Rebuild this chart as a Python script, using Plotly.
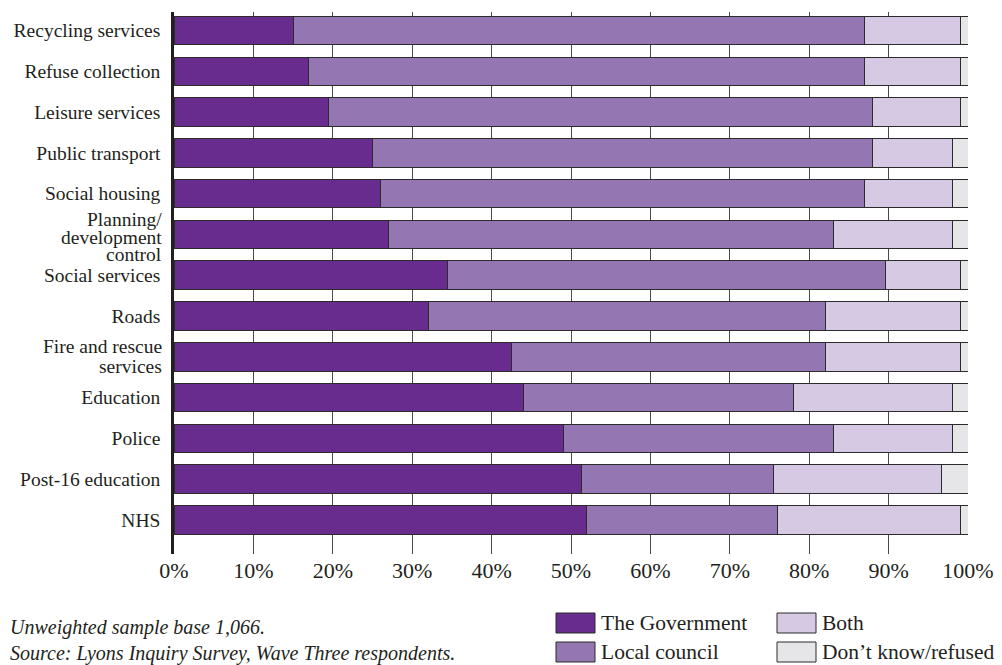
import plotly.graph_objects as go

categories = ["Recycling services", "Refuse collection", "Leisure services", "Public transport",
              "Social housing", "Planning/development control", "Social services", "Roads",
              "Fire and rescue services", "Education", "Police", "Post-16 education", "NHS"]
tick_labels = ["Recycling services", "Refuse collection", "Leisure services", "Public transport",
               "Social housing", "", "Social services", "Roads",
               "", "Education", "Police", "Post-16 education", "NHS"]
planning_lines = ["Planning/", "development", "control"]
fire_lines = ["Fire and rescue", "services"]

government = [15, 17, 19.5, 25, 26, 27, 34.5, 32, 42.5, 44, 49, 51.3, 52]
local_council = [72, 70, 68.5, 63, 61, 56, 55.1, 50, 39.5, 34, 34, 24.2, 24]
both = [12, 12, 11, 10, 11, 15, 9.4, 17, 17, 20, 15, 21.2, 23]
dont_know = [1, 1, 1, 2, 2, 2, 1, 1, 1, 2, 2, 3.3, 1]

series_names = ["The Government", "Local council", "Both", "Don’t know/refused"]
series_values = [government, local_council, both, dont_know]
colors = ["#682c8e", "#9476b2", "#d5c9e3", "#e6e6e8"]

x_ticks = [0, 10, 20, 30, 40, 50, 60, 70, 80, 90, 100]
x_tick_text = [f"{v}%" for v in x_ticks]

FONT = "Liberation Serif"
TXT = "#231f20"
YFS = 19.5

W, H = 1002, 665
ML, MR, MT, MB = 174, 34, 12, 111
PW, PH = W - ML - MR, H - MT - MB

pos = list(range(len(categories)))

fig = go.Figure()
for name, vals, col in zip(series_names, series_values, colors):
    fig.add_trace(go.Bar(
        y=pos, x=vals, name=name, orientation="h",
        marker=dict(color=col, line=dict(color="#2b2b2b", width=1)),
        showlegend=False, customdata=categories,
        hovertemplate="%{customdata}: %{x}%<extra>" + name + "</extra>",
    ))

def px_x(px):
    return (px - ML) / PW

def px_y(py):
    return (H - MB - py) / PH

annotations = []
# Multi-line category labels with tight line spacing
for lines, shifts, idx in [(planning_lines, [15, -3, -20], 5), (fire_lines, [10, -9.5], 8)]:
    for line, shift in zip(lines, shifts):
        annotations.append(dict(text=line, xref="paper", yref="y", x=0, y=idx, xanchor="right",
                                yanchor="middle", xshift=-10, yshift=shift, showarrow=False,
                                font=dict(family=FONT, size=YFS, color=TXT)))

# Footnotes
annotations.append(dict(text="<i>Unweighted sample base 1,066.</i>", xref="paper", yref="paper",
                        x=px_x(8), y=px_y(627), xanchor="left", yanchor="middle", showarrow=False,
                        font=dict(family=FONT, size=20, color=TXT)))
annotations.append(dict(text="<i>Source: Lyons Inquiry Survey, Wave Three respondents.</i>",
                        xref="paper", yref="paper", x=px_x(8), y=px_y(653), xanchor="left",
                        yanchor="middle", showarrow=False, font=dict(family=FONT, size=20, color=TXT)))

# Manual legend (column-major 2x2)
shapes = []
legend_cols = [556, 777]
legend_rows = [623, 652]
for i, (name, col) in enumerate(zip(series_names, colors)):
    cx = legend_cols[i // 2]
    cy = legend_rows[i % 2]
    shapes.append(dict(type="rect", xref="paper", yref="paper",
                       x0=px_x(cx), x1=px_x(cx + 39), y0=px_y(cy - 10), y1=px_y(cy + 10),
                       fillcolor=col, line=dict(color="#2b2b2b", width=1)))
    annotations.append(dict(text=name, xref="paper", yref="paper", x=px_x(cx + 43), y=px_y(cy),
                            xanchor="left", yanchor="middle", showarrow=False,
                            font=dict(family=FONT, size=21.5, color=TXT)))

fig.update_layout(
    template="none",
    barmode="stack", bargap=0.30,
    width=W, height=H,
    margin=dict(l=ML, r=MR, t=MT, b=MB, pad=0, autoexpand=False),
    paper_bgcolor="white", plot_bgcolor="white",
    font=dict(family=FONT, size=YFS, color=TXT),
    annotations=annotations, shapes=shapes,
    xaxis=dict(range=[0, 100], tickvals=x_ticks, ticktext=x_tick_text, automargin=False,
               showgrid=True, gridcolor="#4a4a4a", gridwidth=1.2, zeroline=False,
               showline=False, ticks="", ticklabelstandoff=1,
               tickfont=dict(family=FONT, size=22, color=TXT)),
    yaxis=dict(range=[12.834, -0.4535], tickvals=pos, ticktext=tick_labels, automargin=False,
               showgrid=False, zeroline=False, showline=True, linecolor="#231f20", linewidth=2.5,
               ticks="", ticklabelstandoff=7,
               tickfont=dict(family=FONT, size=YFS, color=TXT)),
)

fig.write_html("out.html", config={"displayModeBar": False},
               post_script="document.body.style.margin='0';document.body.style.overflow='hidden';")
